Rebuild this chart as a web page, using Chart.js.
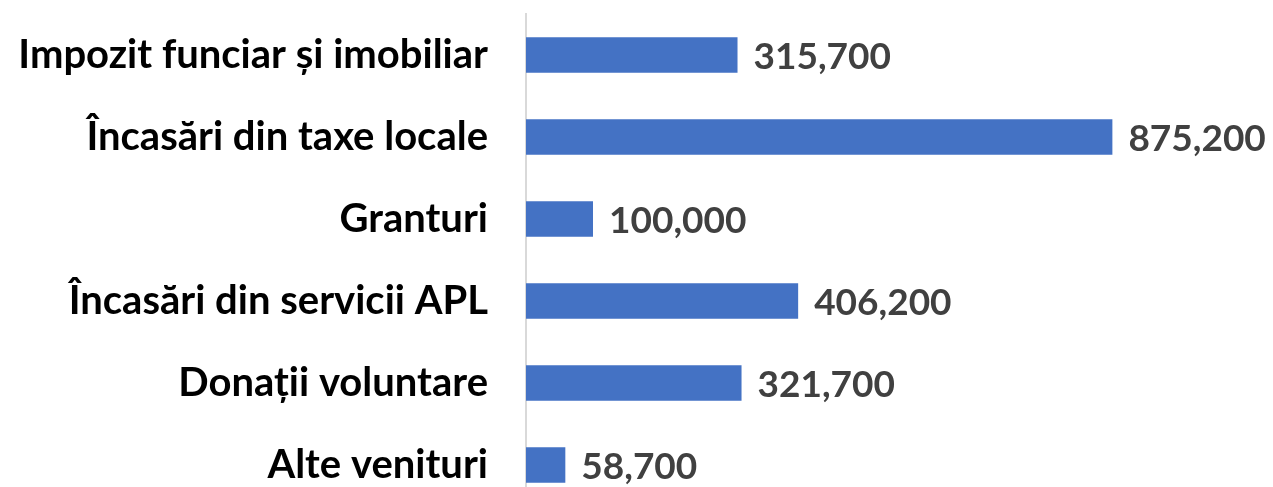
<!DOCTYPE html>
<html>
<head>
<meta charset="utf-8">
<script src="https://cdn.jsdelivr.net/npm/chart.js@4/dist/chart.umd.min.js"></script>
<style>
  html, body { margin: 0; padding: 0; background: #fff; overflow: hidden; }
  canvas { display: block; }
</style>
</head>
<body>
<canvas id="chart" width="1273" height="510"></canvas>
<script>
var categories = [
  'Impozit funciar și imobiliar',
  'Încasări din taxe locale',
  'Granturi',
  'Încasări din servicii APL',
  'Donații voluntare',
  'Alte venituri'
];
var values = [315700, 875200, 100000, 406200, 321700, 58700];

var FONT = 'Lato, Carlito, Calibri, "Open Sans", sans-serif';

// value labels to the right of each bar
var valueLabels = {
  id: 'valueLabels',
  afterDatasetsDraw: function (chart) {
    var ctx = chart.ctx;
    var meta = chart.getDatasetMeta(0);
    ctx.save();
    ctx.font = 'bold 37px ' + FONT;
    ctx.fillStyle = '#404040';
    ctx.textAlign = 'left';
    ctx.textBaseline = 'middle';
    meta.data.forEach(function (bar, i) {
      ctx.fillText(values[i].toLocaleString('en-US'), bar.x + 16, bar.y + 2);
    });
    ctx.restore();
  }
};

new Chart(document.getElementById('chart').getContext('2d'), {
  type: 'bar',
  data: {
    labels: categories,
    datasets: [{
      data: values,
      backgroundColor: '#4472C4',
      barPercentage: 0.43,
      categoryPercentage: 1
    }]
  },
  options: {
    indexAxis: 'y',
    responsive: false,
    animation: false,
    layout: { padding: { top: 14, right: 77, bottom: 4, left: 0 } },
    plugins: { legend: { display: false }, tooltip: { enabled: false } },
    scales: {
      x: {
        min: 0,
        max: 1000000,
        display: false
      },
      y: {
        grid: { display: false, drawTicks: false },
        border: { display: true, color: '#d9d9d9', width: 2 },
        ticks: {
          color: '#000',
          padding: 38,
          font: { family: FONT, size: 40, weight: 'bold' }
        },
        afterFit: function (scale) {
          scale.width = 526;
          scale.paddingTop = 0;
          scale.paddingBottom = 0;
        }
      }
    }
  },
  plugins: [valueLabels]
});
</script>
</body>
</html>
